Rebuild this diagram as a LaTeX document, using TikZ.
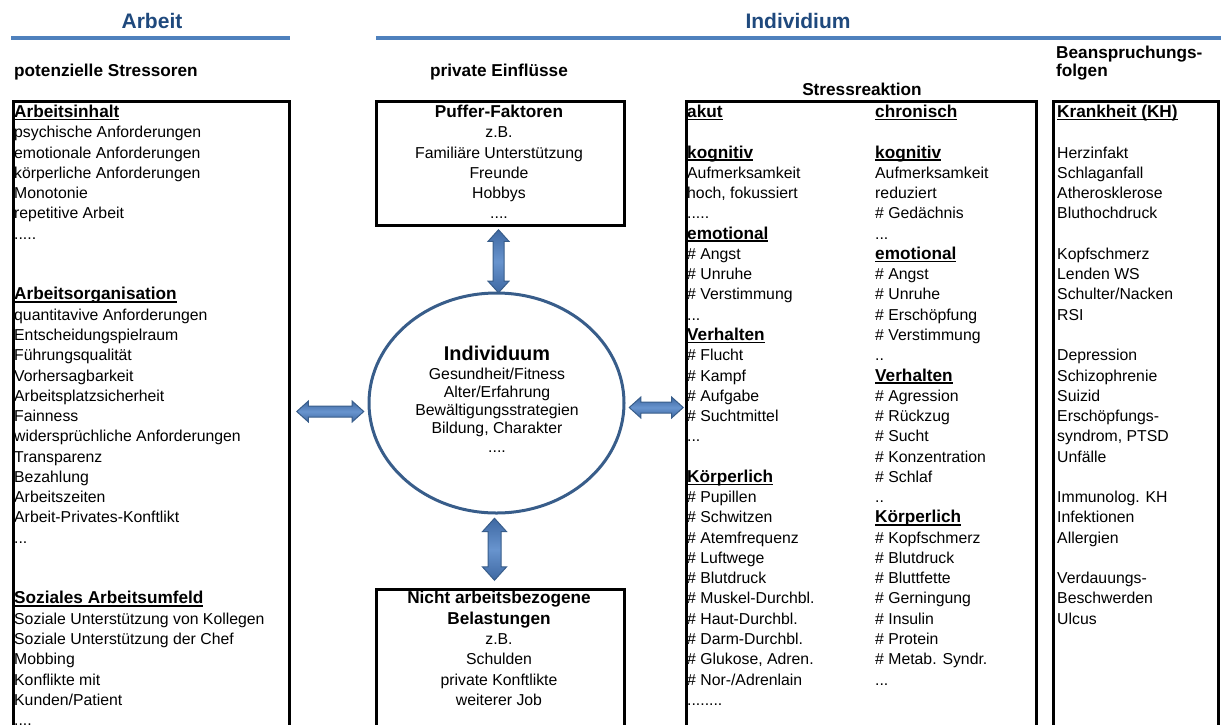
\documentclass[tikz,border=0pt]{standalone}
\usepackage{fontspec}
\setmainfont{Liberation Sans}
\usetikzlibrary{shapes.geometric,shapes.arrows,calc}

\definecolor{titleblue}{RGB}{31,73,125}
\definecolor{ruleblue}{RGB}{79,129,189}
\definecolor{ringblue}{RGB}{56,93,138}
\definecolor{arrowmid}{RGB}{62,104,162}
\definecolor{arrowlight}{RGB}{104,148,206}

% bold heading text, and bold heading with a tight underline
\newcommand{\bhead}[1]{{\bfseries\fontsize{17.2}{20}\selectfont #1}}
\newcommand{\hdline}[1]{\setbox0=\hbox{\bhead{#1}}\rlap{\rule[-2.6pt]{\wd0}{1.3pt}}\box0}
% rows of dots (kept apart so that \foreach does not read them as a range)
\newcommand{\dotsii}{.{}.}
\newcommand{\dotsiii}{.{}.{}.}
\newcommand{\dotsiv}{.{}.{}.{}.}
\newcommand{\dotsv}{.{}.{}.{}.{}.}
\newcommand{\dotsviii}{.{}.{}.{}.{}.{}.{}.{}.}

\tikzset{
  body/.style={inner sep=0, font=\fontsize{15.8}{20}\selectfont},
  lefttext/.style={body, anchor=base west},
  midtext/.style={body, anchor=base},
  maintitle/.style={inner sep=0, anchor=base, text=titleblue, font=\bfseries\fontsize{21}{24}\selectfont},
  subhead/.style={inner sep=0, font=\bfseries\fontsize{17.2}{20}\selectfont},
  boxframe/.style={draw, line width=3, rectangle, anchor=north west, inner sep=0},
  blockarrow/.style={double arrow, draw=ringblue, line width=1, inner xsep=0, inner ysep=5,
    double arrow head extend=5, double arrow tip angle=84,
    top color=arrowmid, bottom color=arrowmid, middle color=arrowlight},
  bluerule/.style={ruleblue, line width=4.5},
}

\begin{document}
\begin{tikzpicture}[x=1pt,y=-1pt]
\useasboundingbox (0,0) rectangle (1221,724);
\clip (0,0) rectangle (1221,724);

% section titles and rules
\node[maintitle] (tArbeit) at (152,28) {Arbeit};
\node[maintitle] (tIndiv) at (798,28) {Individium};
\draw[bluerule] (11,38) -- (290,38);
\draw[bluerule] (376,38) -- (1221,38);

% column headings
\node[subhead, anchor=base west] (hStress) at (14,76.5) {potenzielle Stressoren};
\node[subhead, anchor=base] (hPriv) at (499,76.5) {private Einflüsse};
\node[subhead, anchor=base west] (hFolg1) at (1056,58) {Beanspruchungs-};
\node[subhead, anchor=base west] (hFolg2) at (1056,76) {folgen};
\node[subhead, anchor=base] (hReak) at (862,95) {Stressreaktion};

% frames (the open ones run past the lower edge)
\node[boxframe, minimum width=276.5, minimum height=700] (leftbox) at (11.5,100) {};
\node[boxframe, minimum width=248, minimum height=124] (puffer) at (375,100) {};
\node[boxframe, minimum width=248, minimum height=200] (nicht) at (375,588) {};
\node[boxframe, minimum width=350, minimum height=700] (stressbox) at (685,100) {};
\node[boxframe, minimum width=165, minimum height=700] (khbox) at (1052,100) {};

% the individual
\node[ellipse, draw=ringblue, line width=3, minimum width=255, minimum height=220, inner sep=0] (ell) at (496.5,403) {};

% potential stressors
\foreach \t [count=\i] in {{\hdline{Arbeitsinhalt}}, psychische Anforderungen, emotionale Anforderungen,
  körperliche Anforderungen, Monotonie, repetitive Arbeit, \dotsv, {}, {},
  {\hdline{Arbeitsorganisation}}, quantitavive Anforderungen, Entscheidungspielraum,
  Führungsqualität, Vorhersagbarkeit, Arbeitsplatzsicherheit, Fainness,
  widersprüchliche Anforderungen, Transparenz, Bezahlung, Arbeitszeiten,
  Arbeit-Privates-Konftlikt, \dotsiii, {}, {}, {\hdline{Soziales Arbeitsumfeld}},
  Soziale Unterstützung von Kollegen, Soziale Unterstützung der Chef, Mobbing,
  Konflikte mit, Kunden/Patient, \dotsiv}
  \node[lefttext] (arb\i) at (14,{117.5+(\i-1)*20.27}) {\t};

% buffer factors
\foreach \t [count=\i] in {{\bhead{Puffer-Faktoren}}, z.B., Familiäre Unterstützung, Freunde, Hobbys, \dotsiv}
  \node[midtext] (puf\i) at (499,{117.5+(\i-1)*20.27}) {\t};

% non-work strains
\foreach \t [count=\i from 25] in {{\bhead{Nicht arbeitsbezogene}}, {\bhead{Belastungen}}, z.B., Schulden, private Konftlikte, weiterer Job}
  \node[midtext] (bel\i) at (499,{117.5+(\i-1)*20.27}) {\t};

% acute stress reaction
\foreach \t [count=\i] in {{\hdline{akut}}, {}, {\hdline{kognitiv}}, Aufmerksamkeit, {hoch, fokussiert}, \dotsv,
  {\hdline{emotional}}, \# Angst, \# Unruhe, \# Verstimmung, \dotsiii, {\hdline{Verhalten}},
  \# Flucht, \# Kampf, \# Aufgabe, \# Suchtmittel, \dotsiii, {}, {\hdline{Körperlich}},
  \# Pupillen, \# Schwitzen, \# Atemfrequenz, \# Luftwege, \# Blutdruck,
  \# Muskel-Durchbl., \# Haut-Durchbl., \# Darm-Durchbl., {\# Glukose, Adren.},
  \# Nor-/Adrenlain, \dotsviii}
  \node[lefttext] (ak\i) at (687,{117.5+(\i-1)*20.27}) {\t};

% chronic stress reaction
\foreach \t [count=\i] in {{\hdline{chronisch}}, {}, {\hdline{kognitiv}}, Aufmerksamkeit, reduziert,
  \# Gedächnis, \dotsiii, {\hdline{emotional}}, \# Angst, \# Unruhe, \# Erschöpfung,
  \# Verstimmung, \dotsii, {\hdline{Verhalten}}, \# Agression, \# Rückzug, \# Sucht,
  \# Konzentration, \# Schlaf, \dotsii, {\hdline{Körperlich}}, \# Kopfschmerz,
  \# Blutdruck, \# Bluttfette, \# Gerningung, \# Insulin, \# Protein,
  \# Metab. Syndr., \dotsiii}
  \node[lefttext] (chr\i) at (875,{117.5+(\i-1)*20.27}) {\t};

% consequences
\foreach \t [count=\i] in {{\hdline{Krankheit (KH)}}, {}, Herzinfakt, Schlaganfall, Atherosklerose,
  Bluthochdruck, {}, Kopfschmerz, Lenden WS, Schulter/Nacken, RSI, {}, Depression,
  Schizophrenie, Suizid, Erschöpfungs-, {syndrom, PTSD}, Unfälle, {}, Immunolog. KH,
  Infektionen, Allergien, {}, Verdauungs-, Beschwerden, Ulcus}
  \node[lefttext] (kh\i) at (1057,{117.5+(\i-1)*20.27}) {\t};

% text inside the ellipse
\node[inner sep=0, anchor=base, font=\bfseries\fontsize{19.9}{22}\selectfont] (ind0) at (497,360) {Individuum};
\foreach \t [count=\i] in {Gesundheit/Fitness, Alter/Erfahrung, Bewältigungsstrategien, {Bildung, Charakter}, \dotsiv}
  \node[midtext] (ind\i) at (497,{379+(\i-1)*18.3}) {\t};

% block arrows between the parts
\node[blockarrow, minimum height=63, rotate=90] (aTop) at ($(puffer.south)!0.5!(ell.north)+(0,2)$) {};
\node[blockarrow, minimum height=62, inner ysep=6, double arrow head extend=5.5, rotate=90] (aBot) at ($(ell.south)!0.5!(nicht.north)+(-4,-2)$) {};
\node[blockarrow, minimum height=67] (aLeft) at ($(leftbox.east |- ell.west)!0.5!(ell.west)+(1,8.5)$) {};
\node[blockarrow, minimum height=54] (aRight) at ($(ell.east)!0.5!(stressbox.west |- ell.east)+(1,4.5)$) {};
\end{tikzpicture}
\end{document}
